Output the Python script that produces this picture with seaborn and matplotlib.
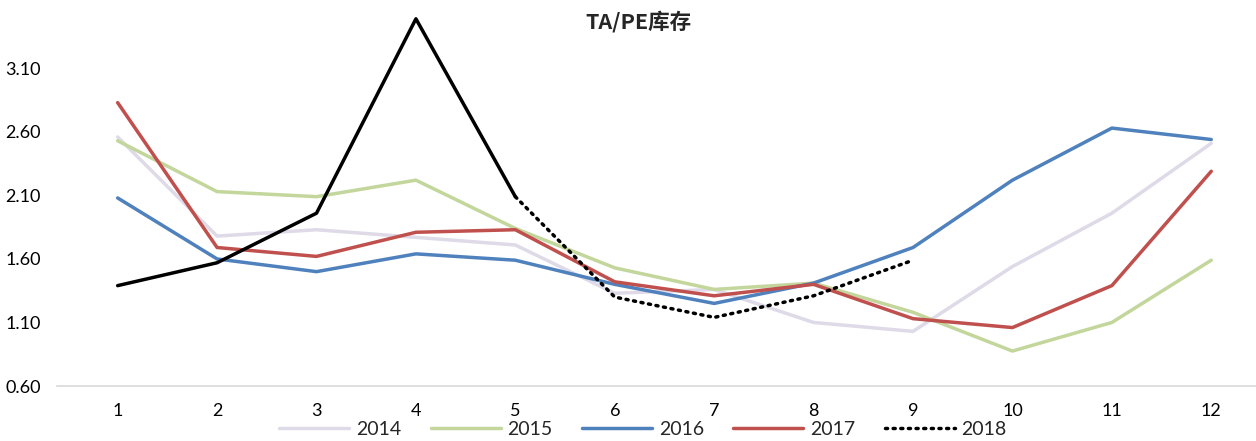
import matplotlib
matplotlib.use("Agg")
import matplotlib.pyplot as plt
import seaborn as sns
import numpy as np

months = list(range(1, 13))
v2014 = [2.56, 1.78, 1.83, 1.77, 1.71, 1.33, 1.36, 1.10, 1.03, 1.54, 1.96, 2.51]
v2015 = [2.53, 2.13, 2.09, 2.22, 1.84, 1.53, 1.36, 1.41, 1.18, 0.875, 1.10, 1.59]
v2016 = [2.08, 1.60, 1.50, 1.64, 1.59, 1.40, 1.25, 1.41, 1.69, 2.22, 2.63, 2.54]
v2017 = [2.83, 1.69, 1.62, 1.81, 1.83, 1.42, 1.31, 1.40, 1.13, 1.06, 1.39, 2.29]
v2018 = [1.39, 1.57, 1.96, 3.49, 2.09, 1.30, 1.14, 1.31, 1.59]
yticks = [0.60, 1.10, 1.60, 2.10, 2.60, 3.10]
title = "TA/PE库存"

sns.set_theme(style="white")
plt.rcParams['font.family'] = ['Lato', 'Noto Sans CJK SC', 'DejaVu Sans']

fig = plt.figure(figsize=(12.56, 4.41), dpi=100)
ax = fig.add_axes([0.0454, 0.1247, 0.9546, 0.8413])

lw = 2.5
sns.lineplot(x=months, y=v2014, ax=ax, color="#DFDAE8", lw=lw, label="2014")
sns.lineplot(x=months, y=v2015, ax=ax, color="#C3D69B", lw=lw, label="2015")
sns.lineplot(x=months, y=v2016, ax=ax, color="#4F81BD", lw=lw, label="2016")
sns.lineplot(x=months, y=v2017, ax=ax, color="#C0504D", lw=lw, label="2017")
sns.lineplot(x=months[:5], y=v2018[:5], ax=ax, color="black", lw=lw, label="_nolegend_")
sns.lineplot(x=months[4:9], y=v2018[4:9], ax=ax, color="black", lw=lw,
             linestyle=(0, (0.6, 1.6)), dash_capstyle="round", label="2018")

ax.set_xlim(0.39, 12.45)
ax.set_ylim(0.6, 3.52)
ax.set_xticks(months)
ax.set_xticklabels([str(m) for m in months])
ax.set_yticks(yticks)
ax.set_yticklabels([f"{t:.2f}" for t in yticks])
ax.tick_params(axis='both', length=0, labelsize=13, colors="black")
ax.tick_params(axis='x', pad=12)
for s in ["top", "right", "left"]:
    ax.spines[s].set_visible(False)
ax.spines["bottom"].set_color("#D9D9D9")
ax.spines["bottom"].set_linewidth(1.2)
ax.grid(False)
ax.set_xlabel("")
ax.set_ylabel("")
for lab in ax.get_yticklabels():
    lab.set_horizontalalignment("left")
ax.yaxis.set_tick_params(pad=37)

fig.text(0.508, 0.95, title, ha="center", va="center", fontsize=15.5, fontweight="bold",
         family=['Noto Sans CJK SC', 'DejaVu Sans'])

leg = ax.legend(loc="center", bbox_to_anchor=(0.512, 0.026), bbox_transform=fig.transFigure,
                ncol=5, frameon=False, fontsize=14, handlelength=3.6, handletextpad=0.36,
                columnspacing=1.5, borderpad=0, borderaxespad=0)

fig.savefig("out.png", dpi=100)
